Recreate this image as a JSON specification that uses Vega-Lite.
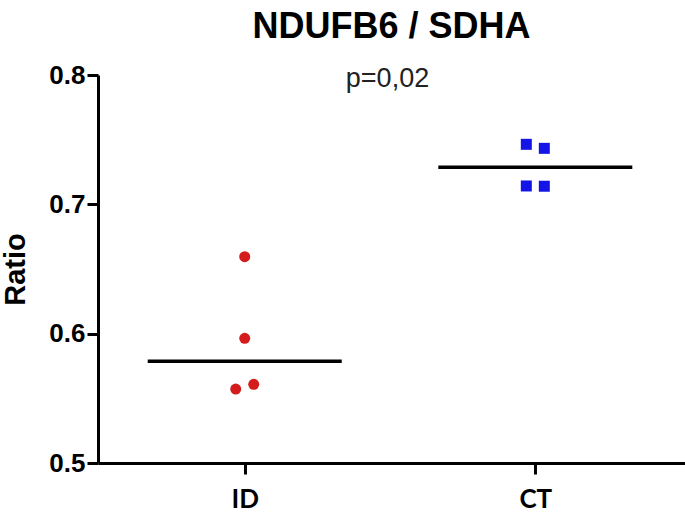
{
  "$schema": "https://vega.github.io/schema/vega-lite/v6.json",
  "autosize": "none",
  "width": 587,
  "height": 388,
  "padding": {"left": 98, "top": 75, "right": 0, "bottom": 53},
  "background": "white",
  "title": {"text": "NDUFB6 / SDHA", "fontSize": 36, "font": "Liberation Sans", "fontWeight": "bold", "color": "black", "anchor": "middle", "offset": 16},
  "config": {"view": {"stroke": null}, "axis": {"grid": false}},
  "datasets": {
    "points": [
      {"group": "ID", "ratio": 0.6595, "jitter": 0},
      {"group": "ID", "ratio": 0.5964, "jitter": 0},
      {"group": "ID", "ratio": 0.5572, "jitter": -1},
      {"group": "ID", "ratio": 0.5608, "jitter": 1},
      {"group": "CT", "ratio": 0.7464, "jitter": -1},
      {"group": "CT", "ratio": 0.7433, "jitter": 1},
      {"group": "CT", "ratio": 0.7142, "jitter": -1},
      {"group": "CT", "ratio": 0.7140, "jitter": 1}
    ],
    "note": [{"label": "p=0,02", "value": 0.791}]
  },
  "layer": [
    {
      "data": {"name": "points"},
      "mark": {"type": "point", "filled": true, "opacity": 1, "size": 121, "strokeWidth": 0},
      "encoding": {
        "x": {
          "field": "group", "type": "nominal",
          "scale": {"type": "point", "domain": ["ID", "CT"], "padding": 0.51, "align": 0.495},
          "axis": {"title": null, "labelFont": "Lato", "labelFontWeight": "bold", "labelFontSize": 26, "labelColor": "black", "labelAngle": 0, "tickSize": 11, "tickWidth": 3, "tickColor": "black", "domainColor": "black", "domainWidth": 3, "labelPadding": 12}
        },
        "xOffset": {"field": "jitter", "type": "quantitative", "scale": {"domain": [-1, 1], "range": [-9, 9]}},
        "y": {
          "field": "ratio", "type": "quantitative",
          "scale": {"domain": [0.5, 0.8], "nice": false, "zero": false},
          "axis": {"title": "Ratio", "values": [0.5, 0.6, 0.7, 0.8], "format": ".1f", "labelFont": "Liberation Sans", "labelFontWeight": "bold", "labelFontSize": 26, "labelColor": "black", "tickSize": 11, "tickWidth": 3, "tickColor": "black", "domainColor": "black", "domainWidth": 3, "labelPadding": 2, "titleFont": "Liberation Sans", "titleFontWeight": "bold", "titleFontSize": 29, "titleColor": "black", "titlePadding": 18}
        },
        "color": {"field": "group", "type": "nominal", "scale": {"domain": ["ID", "CT"], "range": ["#d41c1c", "#1414e6"]}, "legend": null},
        "shape": {"field": "group", "type": "nominal", "scale": {"domain": ["ID", "CT"], "range": ["circle", "square"]}, "legend": null}
      }
    },
    {
      "data": {"name": "points"},
      "mark": {"type": "tick", "color": "black", "size": 194, "thickness": 3.5, "opacity": 1},
      "encoding": {
        "x": {"field": "group", "type": "nominal"},
        "y": {"aggregate": "median", "field": "ratio", "type": "quantitative"}
      }
    },
    {
      "data": {"name": "note"},
      "mark": {"type": "text", "fontSize": 27, "font": "Liberation Sans", "baseline": "alphabetic", "color": "#222222", "dx": -4},
      "encoding": {
        "y": {"field": "value", "type": "quantitative"},
        "text": {"field": "label"}
      }
    }
  ]
}
